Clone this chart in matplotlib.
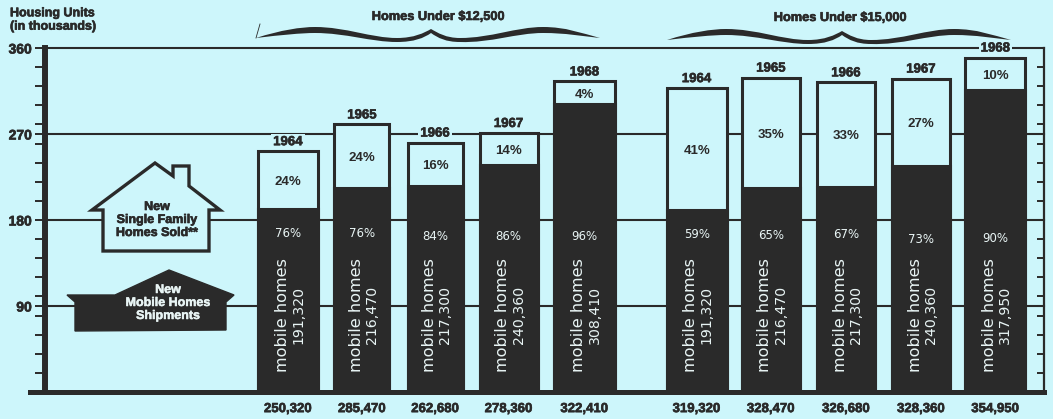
import matplotlib.pyplot as plt
import matplotlib.patheffects as pe
from matplotlib.patches import PathPatch, Polygon
from matplotlib.path import Path

BG = "#cdf6fb"
INK = "#2a2a2a"
PALE = "#e8f4f4"
HEAVY = ["Liberation Sans", "DejaVu Sans"]
# the printed headings are heavier than any installed bold
THICK = [pe.withStroke(linewidth=0.45, foreground=INK)]
THICK_PALE = [pe.withStroke(linewidth=0.35, foreground=PALE)]

years = ["1964", "1965", "1966", "1967", "1968", "1964", "1965", "1966", "1967", "1968"]
# bar heights as drawn in the picture, they differ a little from the printed totals
drawn_totals = [252, 280, 261, 271, 325, 318, 329, 324, 328, 350]
drawn_mobile = [191, 214, 216, 238, 301, 190, 213, 215, 236, 316]
total_labels = ["250,320", "285,470", "262,680", "278,360", "322,410",
                "319,320", "328,470", "326,680", "328,360", "354,950"]
mobile_labels = ["191,320", "216,470", "217,300", "240,360", "308,410",
                 "191,320", "216,470", "217,300", "240,360", "317,950"]
site_pct = ["24%", "24%", "16%", "14%", "4%", "41%", "35%", "33%", "27%", "10%"]
mobile_pct = ["76%", "76%", "84%", "86%", "96%", "59%", "65%", "67%", "73%", "90%"]
group_titles = ["Homes Under $12,500", "Homes Under $15,000"]

# layout in slots of 74.3 px, second group starts after a wider gap
slots = [0, 0.996, 1.98, 2.97, 3.99, 5.5, 6.5, 7.51, 8.52, 9.52]
slot_widths = [0.82, 0.74, 0.74, 0.78, 0.82, 0.81, 0.77, 0.77, 0.79, 0.81]
mobile_pct_y = [166, 166, 163, 163, 163, 165, 164, 165, 160, 161]

fig = plt.figure(figsize=(10.53, 4.19), dpi=100, facecolor=BG)
ax = fig.add_axes([45 / 1053, (419 - 392) / 419, 999 / 1053, 344 / 419], facecolor=BG)
ax.set_xlim(-3.27, 10.175)
ax.set_ylim(0, 360)

for level in [90, 180, 270, 360]:
    ax.axhline(level, color=INK, lw=1.5, zorder=1, clip_on=False)

ax.bar(slots, drawn_totals, slot_widths, facecolor=BG, edgecolor=INK, lw=2.2, zorder=3)
ax.bar(slots, drawn_mobile, slot_widths, facecolor=INK, edgecolor=INK, lw=2.2, zorder=4)

for i, x in enumerate(slots):
    ax.annotate(years[i], (x, drawn_totals[i]), xytext=(0, 6.5), textcoords="offset points",
                ha="center", va="center", fontsize=9.5, fontweight="bold", family=HEAVY,
                color=INK, zorder=2, path_effects=THICK,
                bbox=dict(facecolor=BG, edgecolor="none", pad=1.5))
    ax.text(x, (drawn_totals[i] + drawn_mobile[i]) / 2 - 2, site_pct[i], ha="center", va="center",
            fontsize=9.5, fontweight="bold", color=INK, zorder=5, family=HEAVY)
    ax.text(x, mobile_pct_y[i], mobile_pct[i], ha="center", va="center",
            fontsize=8.5, color=PALE, zorder=5)
    ax.text(x - 0.08, 80.5, "mobile homes", rotation=90, ha="center", va="center",
            fontsize=11.6, color=PALE, zorder=5)
    ax.text(x + 0.135, 81, mobile_labels[i], rotation=90, ha="center", va="center",
            fontsize=10.2, color=PALE, zorder=5)

for side in ["top", "bottom"]:
    ax.spines[side].set_visible(False)
ax.spines["left"].set_linewidth(4.3)
ax.spines["left"].set_color(INK)
ax.spines["right"].set_linewidth(1.6)
ax.spines["right"].set_color(INK)
ax.axhline(0, xmin=-15 / 999, xmax=1, color=INK, lw=3.6, zorder=6, clip_on=False)

ax.set_yticks([90, 180, 270, 360])
ax.set_yticks(list(range(20, 360, 20)), minor=True)
ax.tick_params(axis="y", which="both", length=7.5, width=1.4, color=INK, pad=2)
ax.set_yticklabels(["90", "180", "270", "360"], fontsize=10, fontweight="bold",
                   family=HEAVY, color=INK)
ax.set_xticks(slots, total_labels, fontsize=9.5, fontweight="bold", family=HEAVY, color=INK)
ax.tick_params(axis="x", length=0, pad=8)
for label in ax.get_xticklabels() + ax.get_yticklabels():
    label.set_path_effects(THICK)

right_axis = ax.secondary_yaxis("right")
right_axis.set_yticks([])
right_axis.set_yticks(list(range(20, 360, 20)), minor=True)
right_axis.tick_params(which="minor", direction="in", length=5, width=1.4, color=INK)
right_axis.spines["right"].set_visible(False)

# icons, braces and headings sit in picture pixels
overlay = fig.add_axes([0, 0, 1, 1], facecolor="none")
overlay.set_xlim(0, 1053)
overlay.set_ylim(419, 0)
overlay.axis("off")

house = [(155, 163), (173, 176), (173, 166), (189, 166), (189, 186), (220, 210), (209, 210),
         (209, 251), (103, 251), (103, 210), (92, 210)]
overlay.add_patch(Polygon(house, closed=True, facecolor=BG, edgecolor=INK, lw=2.4, joinstyle="miter"))
mobile_home = [(169, 270), (234, 295), (226, 302), (226, 330), (75, 331), (75, 302), (67, 295), (115, 295)]
overlay.add_patch(Polygon(mobile_home, closed=True, facecolor=INK, edgecolor=INK, lw=1))

for y, line in zip([207, 220, 233], ["New", "Single Family", "Homes Sold**"]):
    overlay.text(157, y, line, ha="center", va="center", fontsize=9, fontweight="bold",
                 family=HEAVY, color=INK, path_effects=THICK)
for y, line in zip([290, 303, 316], ["New", "Mobile Homes", "Shipments"]):
    overlay.text(168, y, line, ha="center", va="center", fontsize=9, fontweight="bold",
                 family=HEAVY, color=PALE, path_effects=THICK_PALE)


def draw_brace(x0, y0):
    pts = [(0, 0), (25, -8), (45, -11), (59, -11), (90, -11), (115, 0), (141, 0),
           (158, 0), (168, -5), (175, -9), (182, -5), (190, 0), (204, 0), (235, 0),
           (260, -11), (287, -11), (310, -11), (325, -5), (344, 0),
           (325, -2), (310, -5), (287, -5), (260, -5), (235, 5), (204, 4),
           (190, 4), (182, 0), (175, -5), (168, 0), (158, 4), (141, 4),
           (115, 4), (90, -5), (59, -5), (45, -5), (25, -3), (0, 0)]
    verts = [(x0 + dx, y0 + dy) for dx, dy in pts]
    codes = [Path.MOVETO] + [Path.CURVE4] * (len(verts) - 1)
    overlay.add_patch(PathPatch(Path(verts, codes), facecolor=INK, edgecolor="none"))


draw_brace(256, 38)
draw_brace(667, 40)
overlay.plot([256, 260], [38, 24], color=INK, lw=0.6)

for x, y, title in zip([438, 840], [17, 18], group_titles):
    overlay.text(x, y, title, ha="center", va="center", fontsize=9.2, fontweight="bold",
                 family=HEAVY, color=INK, path_effects=THICK)
overlay.text(10, 20, "Housing Units\n(in thousands)", ha="left", va="center", fontsize=9,
             fontweight="bold", family=HEAVY, color=INK, linespacing=1.15, path_effects=THICK)

fig.savefig("out.png", dpi=100, facecolor=BG)
